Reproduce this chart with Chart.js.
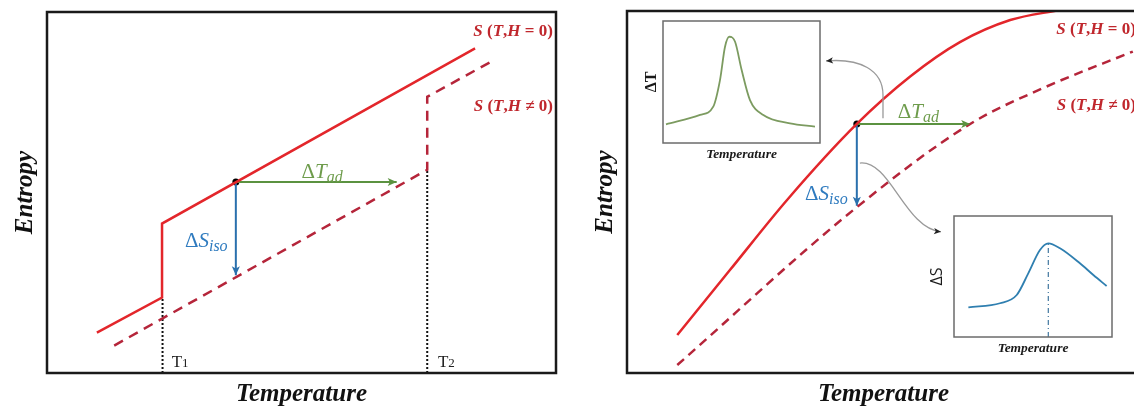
<!DOCTYPE html>
<html>
<head>
<meta charset="utf-8">
<script src="https://cdn.jsdelivr.net/npm/chart.js@4.4.0/dist/chart.umd.min.js"></script>
<style>
  html, body { margin: 0; padding: 0; background: #fff; }
  body { position: relative; width: 1134px; height: 409px; overflow: hidden; }
  canvas { position: absolute; }
  #left { left: 0; top: 0; }
  #right { left: 570px; top: 0; }
  #inset1 { left: 635px; top: 15px; }
  #inset2 { left: 925px; top: 210px; }
</style>
</head>
<body>
<canvas id="left" width="567" height="409"></canvas>
<canvas id="right" width="580" height="409"></canvas>
<canvas id="inset1" width="195" height="155"></canvas>
<canvas id="inset2" width="195" height="155"></canvas>
<script>
// left panel: first-order transition (axes run 0..10, schematic units)
const leftSolidT = [0.98, 2.26, 2.26, 8.41];
const leftSolidS = [1.12, 2.09, 4.14, 8.99];
const leftDashT = [1.32, 7.47, 7.47, 8.72];
const leftDashS = [0.76, 5.63, 7.65, 8.62];
const transT = [2.27, 7.47];       // T1, T2
const transTop = [2.09, 5.63];     // dotted guides stop on the curves
const leftDot = [3.71, 5.29];
const leftTadEnd = 6.87;
const leftSisoEnd = 2.71;

// right panel: second-order transition
const rightSolidT = [0.98, 2.01, 3.12, 4.48, 5.52, 6.49, 7.47, 8.44];
const rightSolidS = [1.05, 2.85, 4.78, 6.88, 8.19, 9.14, 9.75, 10.03];
const rightDashT = [0.98, 4.41, 6.69, 8.11, 9.86];
const rightDashS = [0.22, 4.50, 6.88, 7.87, 8.88];
const rightDot = [4.48, 6.88];
const rightTadEnd = 6.69;
const rightSisoEnd = 4.62;

// insets
const dTT = [0.19, 2.36, 3.20, 3.63, 3.95, 4.22, 4.59, 5.01, 5.54, 6.39, 8.09, 9.68];
const dTV = [1.53, 2.30, 2.98, 5.16, 7.89, 8.71, 8.30, 5.98, 3.52, 2.30, 1.61, 1.34];
const dST = [0.91, 2.91, 3.97, 4.70, 5.44, 5.97, 6.71, 7.97, 8.82, 9.66];
const dSV = [2.45, 2.79, 3.47, 5.26, 7.19, 7.74, 7.33, 6.09, 5.12, 4.21];
const dSPeak = [5.97, 7.74];

const RED = '#e3262b';
const DARKRED = '#b5253a';
const LABELRED = '#c0272d';
const GREEN = '#5b9240';
const BLUE = '#2a70ad';
const SERIF = '"Liberation Serif", "DejaVu Serif", serif';

function pts(xs, ys) {
    return xs.map((x, i) => ({ x: x, y: ys[i] }));
}

function toPx(chart, x, y) {
    return [chart.scales.x.getPixelForValue(x), chart.scales.y.getPixelForValue(y)];
}

function rich(ctx, parts, x, y, align) {
    let w = 0;
    parts.forEach(p => {
        ctx.font = p.font;
        p.w = ctx.measureText(p.text).width;
        w += p.w;
    });
    let cx = align === 'right' ? x - w : (align === 'center' ? x - w / 2 : x);
    ctx.textAlign = 'left';
    ctx.textBaseline = 'alphabetic';
    parts.forEach(p => {
        ctx.font = p.font;
        ctx.fillStyle = p.color;
        ctx.fillText(p.text, cx, y + (p.dy || 0));
        cx += p.w;
    });
}

function head(ctx, x, y, angle, size, color) {
    ctx.save();
    ctx.translate(x, y);
    ctx.rotate(angle);
    ctx.fillStyle = color;
    ctx.beginPath();
    ctx.moveTo(0, 0);
    ctx.lineTo(-size, -size * 0.45);
    ctx.lineTo(-size * 0.75, 0);
    ctx.lineTo(-size, size * 0.45);
    ctx.closePath();
    ctx.fill();
    ctx.restore();
}

function sLabel(neq, size) {
    const bi = 'italic bold ' + size + 'px ' + SERIF;
    const b = 'bold ' + size + 'px ' + SERIF;
    return [
        { text: 'S', font: bi, color: LABELRED },
        { text: ' (', font: b, color: LABELRED },
        { text: 'T', font: bi, color: LABELRED },
        { text: ',', font: b, color: LABELRED },
        { text: 'H', font: bi, color: LABELRED },
        { text: neq ? ' \u2260 ' : ' = ', font: b, color: LABELRED },
        { text: '0', font: b, color: LABELRED },
        { text: ')', font: b, color: LABELRED }
    ];
}

function deltaLabel(sym, sub, color) {
    return [
        { text: '\u0394', font: '21px ' + SERIF, color: color },
        { text: sym, font: 'italic 21px ' + SERIF, color: color },
        { text: sub, font: 'italic 16px ' + SERIF, color: color, dy: 4 }
    ];
}

const framePlugin = {
    id: 'frame',
    beforeDraw(chart, args, opts) {
        if (!opts.fill) return;
        const a = chart.chartArea;
        chart.ctx.save();
        chart.ctx.fillStyle = opts.fill;
        chart.ctx.fillRect(a.left, a.top, a.right - a.left, a.bottom - a.top);
        chart.ctx.restore();
    },
    afterDraw(chart, args, opts) {
        const a = chart.chartArea;
        const ctx = chart.ctx;
        ctx.save();
        ctx.strokeStyle = opts.color;
        ctx.lineWidth = opts.width;
        ctx.strokeRect(a.left, a.top, a.right - a.left, a.bottom - a.top);
        ctx.restore();
    }
};

// arrowheads on datasets flagged with arrow: true
const arrowPlugin = {
    id: 'arrows',
    afterDatasetsDraw(chart) {
        const ctx = chart.ctx;
        chart.data.datasets.forEach((ds, i) => {
            if (!ds.arrow) return;
            const el = chart.getDatasetMeta(i).data;
            const a = el[el.length - 2], b = el[el.length - 1];
            head(ctx, b.x, b.y, Math.atan2(b.y - a.y, b.x - a.x), 9, ds.borderColor);
        });
    }
};

function titles(xTitle, yTitle, size, yOffset, xOffset) {
    return {
        id: 'titles',
        afterDraw(chart) {
            const a = chart.chartArea;
            const ctx = chart.ctx;
            ctx.save();
            ctx.fillStyle = '#111';
            ctx.font = 'italic bold ' + size + 'px ' + SERIF;
            ctx.textAlign = 'center';
            ctx.textBaseline = 'middle';
            ctx.fillText(xTitle, (a.left + a.right) / 2, a.bottom + yOffset);
            ctx.translate(a.left - xOffset, (a.top + a.bottom) / 2);
            ctx.rotate(-Math.PI / 2);
            ctx.fillText(yTitle, 0, 0);
            ctx.restore();
        }
    };
}

function baseOptions(padding, frame) {
    return {
        responsive: false,
        animation: false,
        devicePixelRatio: 1,
        layout: { padding: padding },
        elements: { point: { radius: 0 } },
        plugins: {
            legend: { display: false },
            tooltip: { enabled: false },
            frame: frame
        },
        scales: {
            x: { type: 'linear', min: 0, max: 10, display: false },
            y: { type: 'linear', min: 0, max: 10, display: false }
        }
    };
}

// ---------- left panel ----------
new Chart(document.getElementById('left'), {
    type: 'scatter',
    data: {
        datasets: [
            { data: pts(leftSolidT, leftSolidS), showLine: true, borderColor: RED, borderWidth: 2.5, tension: 0 },
            { data: pts(leftDashT, leftDashS), showLine: true, borderColor: DARKRED, borderWidth: 2.5, borderDash: [10, 7], tension: 0 },
            { data: [{ x: transT[0], y: 0 }, { x: transT[0], y: transTop[0] }], showLine: true, borderColor: '#111', borderWidth: 2, borderDash: [2, 2] },
            { data: [{ x: transT[1], y: 0 }, { x: transT[1], y: transTop[1] }], showLine: true, borderColor: '#111', borderWidth: 2, borderDash: [2, 2] },
            { data: [{ x: leftDot[0], y: leftDot[1] }, { x: leftTadEnd, y: leftDot[1] }], showLine: true, borderColor: GREEN, borderWidth: 2, arrow: true },
            { data: [{ x: leftDot[0], y: leftDot[1] }, { x: leftDot[0], y: leftSisoEnd }], showLine: true, borderColor: BLUE, borderWidth: 2, arrow: true },
            { data: [{ x: leftDot[0], y: leftDot[1] }], pointRadius: 3.5, pointBackgroundColor: '#000', pointBorderWidth: 0 }
        ]
    },
    options: baseOptions({ left: 47, top: 12, right: 11, bottom: 36 }, { color: '#1a1a1a', width: 2.5 }),
    plugins: [framePlugin, arrowPlugin, titles('Temperature', 'Entropy', 25, 22, 21), {
        id: 'leftText',
        afterDraw(chart) {
            const ctx = chart.ctx;
            ctx.save();
            let p = toPx(chart, 9.94, 9.34);
            rich(ctx, sLabel(false, 17), p[0], p[1], 'right');
            p = toPx(chart, 9.94, 7.26);
            rich(ctx, sLabel(true, 17), p[0], p[1], 'right');
            p = toPx(chart, 5.0, 5.40);
            rich(ctx, deltaLabel('T', 'ad', '#6e9c4c'), p[0], p[1], 'left');
            p = toPx(chart, 2.71, 3.49);
            rich(ctx, deltaLabel('S', 'iso', '#2f7bbf'), p[0], p[1], 'left');
            const t = '17px ' + SERIF, s = '13px ' + SERIF;
            p = toPx(chart, 2.45, 0.17);
            rich(ctx, [{ text: 'T', font: t, color: '#222' }, { text: '1', font: s, color: '#222' }], p[0], p[1], 'left');
            p = toPx(chart, 7.68, 0.17);
            rich(ctx, [{ text: 'T', font: t, color: '#222' }, { text: '2', font: s, color: '#222' }], p[0], p[1], 'left');
            ctx.restore();
        }
    }]
});

// ---------- right panel ----------
new Chart(document.getElementById('right'), {
    type: 'scatter',
    data: {
        datasets: [
            { data: pts(rightSolidT, rightSolidS), showLine: true, borderColor: RED, borderWidth: 2.5, cubicInterpolationMode: 'monotone' },
            { data: pts(rightDashT, rightDashS), showLine: true, borderColor: DARKRED, borderWidth: 2.5, borderDash: [9, 6], cubicInterpolationMode: 'monotone' },
            { data: [{ x: rightDot[0], y: rightDot[1] }, { x: rightTadEnd, y: rightDot[1] }], showLine: true, borderColor: GREEN, borderWidth: 2, arrow: true },
            { data: [{ x: rightDot[0], y: rightDot[1] }, { x: rightDot[0], y: rightSisoEnd }], showLine: true, borderColor: BLUE, borderWidth: 2, arrow: true },
            { data: [{ x: rightDot[0], y: rightDot[1] }], pointRadius: 3.5, pointBackgroundColor: '#000', pointBorderWidth: 0 }
        ]
    },
    options: baseOptions({ left: 57, top: 11, right: 10, bottom: 36 }, { color: '#1a1a1a', width: 2.5 }),
    plugins: [framePlugin, arrowPlugin, titles('Temperature', 'Entropy', 25, 22, 21), {
        id: 'rightText',
        afterDraw(chart) {
            const ctx = chart.ctx;
            ctx.save();
            let p = toPx(chart, 9.92, 9.36);
            rich(ctx, sLabel(false, 17), p[0], p[1], 'right');
            p = toPx(chart, 9.92, 7.27);
            rich(ctx, sLabel(true, 17), p[0], p[1], 'right');
            p = toPx(chart, 5.28, 7.04);
            rich(ctx, deltaLabel('T', 'ad', '#6e9c4c'), p[0], p[1], 'left');
            p = toPx(chart, 3.47, 4.78);
            rich(ctx, deltaLabel('S', 'iso', '#2f7bbf'), p[0], p[1], 'left');

            // grey pointers to the insets
            ctx.strokeStyle = '#9a9a9a';
            ctx.lineWidth = 1.3;
            const a0 = toPx(chart, 4.99, 7.04), a1 = toPx(chart, 4.99, 7.68), a2 = toPx(chart, 4.99, 8.37),
                a3 = toPx(chart, 4.54, 8.70), a4 = toPx(chart, 3.88, 8.62);
            ctx.beginPath();
            ctx.moveTo(a0[0], a0[1]);
            ctx.lineTo(a1[0], a1[1]);
            ctx.bezierCurveTo(a2[0], a2[1], a3[0], a3[1], a4[0], a4[1]);
            ctx.stroke();
            head(ctx, a4[0], a4[1], Math.atan2(a4[1] - a3[1], a4[0] - a3[0]), 7, '#222');
            const b0 = toPx(chart, 4.54, 5.80), b1 = toPx(chart, 5.13, 5.89), b2 = toPx(chart, 5.42, 3.99),
                b3 = toPx(chart, 6.12, 3.90);
            ctx.beginPath();
            ctx.moveTo(b0[0], b0[1]);
            ctx.bezierCurveTo(b1[0], b1[1], b2[0], b2[1], b3[0], b3[1]);
            ctx.stroke();
            head(ctx, b3[0], b3[1], Math.atan2(b3[1] - b2[1], b3[0] - b2[0]), 7, '#222');
            ctx.restore();
        }
    }]
});

// ---------- insets ----------
function insetLabels(yLabel, yFont, yOffset) {
    return {
        id: 'insetLabels',
        afterDraw(chart) {
            const a = chart.chartArea;
            const ctx = chart.ctx;
            ctx.save();
            ctx.fillStyle = '#1a1a1a';
            ctx.textAlign = 'center';
            ctx.textBaseline = 'middle';
            ctx.font = 'italic bold 13.5px ' + SERIF;
            ctx.fillText('Temperature', (a.left + a.right) / 2, a.bottom + 12);
            ctx.translate(a.left - yOffset, (a.top + a.bottom) / 2);
            ctx.rotate(-Math.PI / 2);
            ctx.font = yFont;
            ctx.fillText(yLabel, 0, 0);
            ctx.restore();
        }
    };
}

new Chart(document.getElementById('inset1'), {
    type: 'scatter',
    data: {
        datasets: [
            { data: pts(dTT, dTV), showLine: true, borderColor: '#7c9b60', borderWidth: 1.8, cubicInterpolationMode: 'monotone' }
        ]
    },
    options: baseOptions({ left: 28, top: 6, right: 10, bottom: 27 }, { color: '#6b6b6b', width: 1.5, fill: '#fff' }),
    plugins: [framePlugin, insetLabels('\u0394T', 'bold 16px ' + SERIF, 11)]
});

new Chart(document.getElementById('inset2'), {
    type: 'scatter',
    data: {
        datasets: [
            { data: pts(dST, dSV), showLine: true, borderColor: '#2f7fb0', borderWidth: 1.8, cubicInterpolationMode: 'monotone' },
            { data: [{ x: dSPeak[0], y: 0 }, { x: dSPeak[0], y: dSPeak[1] }], showLine: true, borderColor: '#4f80a6', borderWidth: 1.3, borderDash: [5, 3, 1, 3] }
        ]
    },
    options: baseOptions({ left: 29, top: 6, right: 8, bottom: 28 }, { color: '#6b6b6b', width: 1.5, fill: '#fff' }),
    plugins: [framePlugin, insetLabels('\u0394S', '16px "Open Sans", sans-serif', 17)]
});
</script>
</body>
</html>
